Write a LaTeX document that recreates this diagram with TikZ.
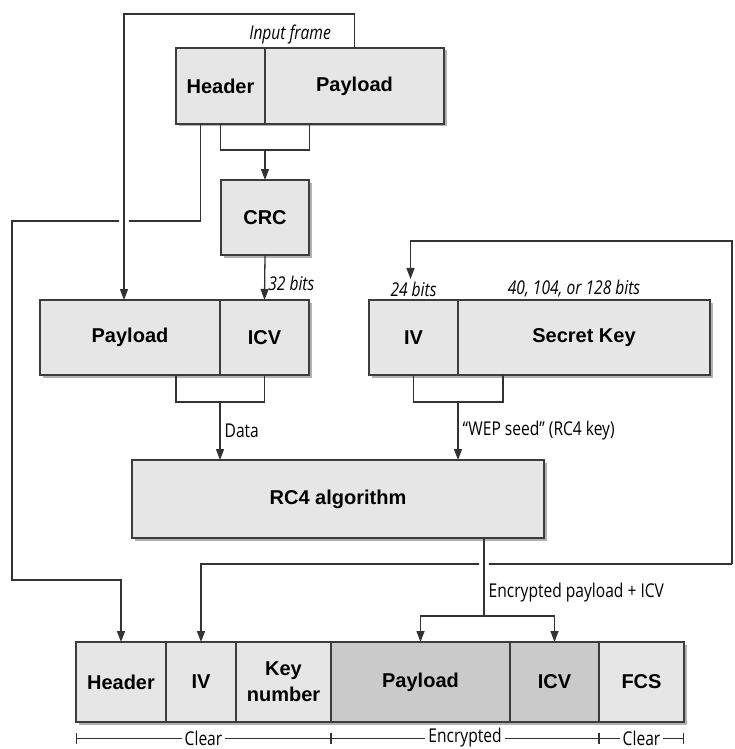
\documentclass[tikz,border=0pt]{standalone}
\usepackage{fontspec}
\setmainfont{Liberation Sans}
\newfontfamily\notefont[FakeStretch=0.82]{Open Sans}
\usetikzlibrary{arrows.meta,positioning,shadows}

\definecolor{boxgray}{HTML}{E6E6E6}
\definecolor{encgray}{HTML}{CACACA}
\definecolor{edgegray}{HTML}{3C3C3C}

\tikzset{
  field/.style={draw=edgegray, line width=1.6pt, fill=boxgray, inner sep=0pt, outer sep=0pt,
    minimum height=75pt, align=center, font=\fontsize{20}{26}\selectfont\bfseries,
    drop shadow={shadow xshift=2.5pt, shadow yshift=-2.5pt, fill=black!30, opacity=1}},
  wire/.style={draw=black!80, line width=1.3pt},
  arr/.style={wire, -{Triangle[length=11pt,width=8pt]}},
  note/.style={font=\notefont\fontsize{19}{22}\selectfont\itshape, inner sep=3pt},
  tag/.style={font=\notefont\fontsize{19}{22}\selectfont, inner sep=4pt},
  rangebar/.style={draw=black!80, line width=1pt, {Bar[width=11pt]}-{Bar[width=11pt]}}
}

\begin{document}
\begin{tikzpicture}[x=1pt, y=-1pt]
    \useasboundingbox (0,0) rectangle (734,749);

    % Frame di ingresso
    \node[field, minimum width=89pt, minimum height=76pt] (inhdr) at (220.5,86) {Header};
    \node[field, minimum width=179pt, minimum height=76pt] (inpay) at (354.5,86) {Payload};
    \node[note, anchor=base east] (inlbl) at (334,40) {Input frame};

    % CRC
    \node[field, minimum width=88pt] (crc) at (265,217.5) {CRC};

    % Payload + ICV
    \node[field, minimum width=180pt] (mpay) at (130,337.5) {Payload};
    \node[field, minimum width=89pt] (micv) at (264.5,337.5) {ICV};

    % IV + chiave segreta
    \node[field, minimum width=89pt] (kiv) at (413.5,337.5) {IV};
    \node[field, minimum width=252pt] (ksec) at (584,337.5) {Secret Key};
    \node[note, above=0pt of kiv] (bits24) {24 bits};
    \node[note, above=0pt of ksec, xshift=-10pt] (bitskey) {40, 104, or 128 bits};

    % RC4
    \node[field, minimum width=412pt, minimum height=78pt] (rc4) at (338,499) {RC4 algorithm};

    % Frame cifrato
    \node[field, minimum width=90pt, minimum height=80pt] (ohdr) at (121,682) {Header};
    \node[field, minimum width=70pt, minimum height=80pt] (oiv) at (201,682) {IV};
    \node[field, minimum width=95pt, minimum height=80pt] (okey) at (283.5,682) {Key\\number};
    \node[field, minimum width=179pt, minimum height=80pt, fill=encgray] (opay) at (420.5,682) {Payload};
    \node[field, minimum width=89pt, minimum height=80pt, fill=encgray] (oicv) at (554.5,682) {ICV};
    \node[field, minimum width=85pt, minimum height=80pt] (ofcs) at (641.5,682) {FCS};

    % Header -> frame cifrato
    \coordinate (lcorner) at (12,221);
    \coordinate (lbottom) at (12,580);
    \draw[arr] ([xshift=-20pt]inhdr.south) |- (lcorner) -- (lbottom) -| (ohdr.north);

    % Payload -> Payload (con incrocio)
    \fill[white] (124,221) circle (5pt);
    \draw[arr] (inpay.north) -- ++(0,-34) -| ([xshift=-6pt]mpay.north);

    % Calcolo CRC
    \draw[wire] (inhdr.south) -- ++(0,26) coordinate (crcin) -- ([xshift=-45pt]inpay.south |- crcin) -- ([xshift=-45pt]inpay.south);
    \draw[arr] (crc.north |- crcin) -- (crc.north);
    \draw[arr] (crc.south) -- node[note, right, pos=0.62] (lbl32) {32 bits} (micv.north);

    % Dati e seme WEP verso RC4
    \draw[wire] ([xshift=46pt]mpay.south) -- ++(0,27) coordinate (datain) -| (micv.south);
    \draw[arr] (mpay.south east |- datain) -- node[tag, right] (lbldata) {Data} (mpay.south east |- rc4.north);
    \draw[wire] (kiv.south) -- ++(0,27) coordinate (seedin) -| ([xshift=-81pt]ksec.south);
    \draw[arr] (kiv.south east |- seedin) -- node[tag, right] (lblseed) {“WEP seed” (RC4 key)} (kiv.south east |- rc4.north);

    % IV: anello a destra
    \coordinate (ktop) at (732,241);
    \coordinate (kbot) at (732,564);
    \draw[arr] (kbot) -- (ktop) -| ([xshift=-3pt]bits24.north);
    \draw[arr] (kbot) -| (oiv.north);

    % Uscita RC4 (con incrocio)
    \fill[white] ([xshift=146pt]rc4.south |- kbot) circle (5pt);
    \draw[wire] ([xshift=146pt]rc4.south) -- node[tag, right, pos=0.7] (lblenc) {Encrypted payload + ICV} ++(0,78) coordinate (encout);
    \draw[arr] (encout) -| (opay.north);
    \draw[arr] (encout) -| (oicv.north);

    % Intervalli in chiaro / cifrati
    \draw[rangebar] ([yshift=-16pt]ohdr.south west) -- node[tag, fill=white, inner sep=3pt] (rclear) {Clear} ([yshift=-16pt]okey.south east);
    \draw[rangebar] ([yshift=-16pt]opay.south west) -- node[tag, fill=white, inner sep=3pt] (renc) {Encrypted} ([yshift=-16pt]oicv.south east);
    \draw[rangebar] ([yshift=-16pt]ofcs.south west) -- node[tag, fill=white, inner sep=3pt] (rclear2) {Clear} ([yshift=-16pt]ofcs.south east);
\end{tikzpicture}
\end{document}
